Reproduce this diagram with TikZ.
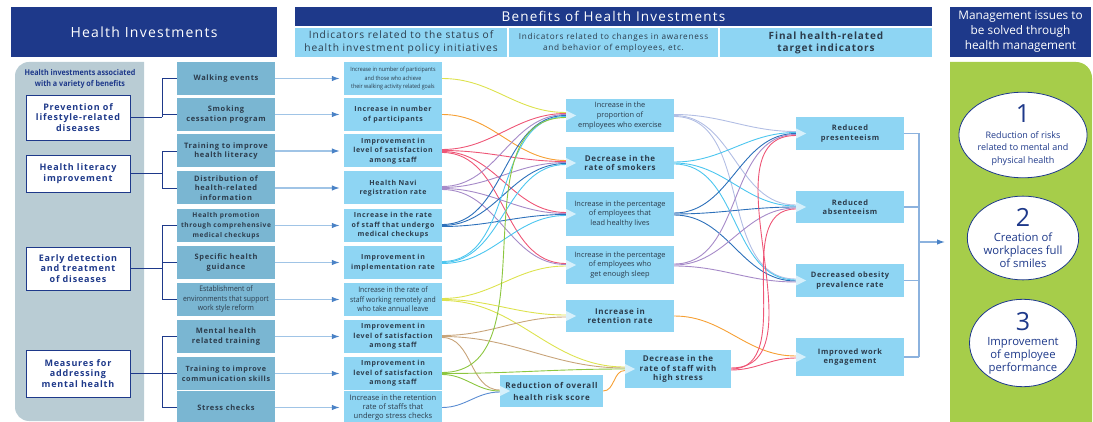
\documentclass[tikz,border=0pt]{standalone}
\usepackage{fontspec}
\setmainfont{Open Sans}[LetterSpace=9]
\newfontfamily\plainface{Open Sans}
\newfontfamily\narrowface{Open Sans}[FakeStretch=0.9]
\usetikzlibrary{shapes.geometric,backgrounds,arrows.meta}
\definecolor{hinavy}{RGB}{30,57,138}
\definecolor{hicyan}{RGB}{142,213,243}
\definecolor{histeel}{RGB}{122,182,210}
\definecolor{hipanel}{RGB}{185,204,212}
\definecolor{higreen}{RGB}{166,205,74}
\definecolor{hitext}{RGB}{44,60,76}
\definecolor{hitri}{RGB}{214,240,251}
\definecolor{feedline}{RGB}{160,196,230}
\definecolor{feedtip}{RGB}{74,130,198}
\definecolor{rline}{RGB}{140,178,222}
\definecolor{cyel}{RGB}{221,226,78}
\definecolor{corg}{RGB}{246,160,52}
\definecolor{cred}{RGB}{238,86,118}
\definecolor{cpur}{RGB}{166,138,200}
\definecolor{cdbl}{RGB}{44,112,186}
\definecolor{ccya}{RGB}{76,198,239}
\definecolor{cgrn}{RGB}{140,198,63}
\definecolor{ctan}{RGB}{200,164,122}
\definecolor{csbl}{RGB}{90,140,210}
\definecolor{clav}{RGB}{178,190,228}
\tikzset{
hdr/.style={fill=hinavy,text=white,inner sep=0pt,align=center},
subhdr/.style={fill=hicyan,text=hitext,inner sep=0pt,align=center,minimum height=29pt},
grp/.style={draw=hinavy,line width=0.9pt,fill=white,text=hinavy,minimum width=104pt,inner sep=0pt,align=center,font=\bfseries\fontsize{9}{10.7}\selectfont},
inv/.style={fill=histeel,text=hitext,minimum width=98pt,minimum height=33pt,inner sep=0pt,align=center,font=\bfseries\fontsize{7.5}{9.8}\selectfont},
kpi/.style={fill=hicyan,text=hitext,minimum width=98pt,minimum height=33pt,inner sep=0pt,align=center,font=\bfseries\fontsize{7}{9.5}\selectfont},
tri/.style={path picture={\fill[hitri] ([yshift=5pt]path picture bounding box.west) -- ([xshift=10pt]path picture bounding box.west) -- ([yshift=-5pt]path picture bounding box.west) -- cycle;}},
mid/.style={fill=hicyan,text=hitext,minimum width=108pt,inner sep=0pt,align=center,tri},
smalltxt/.style={font=\plainface\fontsize{7.4}{9.6}\selectfont},
boldtxt/.style={font=\bfseries\fontsize{8}{9.8}\selectfont},
fin/.style={mid,font=\bfseries\fontsize{7.5}{9.6}\selectfont},
goal/.style={ellipse,draw=hinavy,line width=0.8pt,fill=white,text=hinavy,minimum width=107pt,minimum height=81pt,inner sep=0pt,align=center},
brk/.style={draw=hinavy,line width=0.8pt},
feed/.style={draw=feedline,line width=1.2pt,shorten >=4pt,-{Latex[length=8pt,width=5.5pt,color=feedtip]}},
flow/.style={line width=0.9pt},
rbk/.style={draw=rline,line width=1.2pt}
}

\begin{document}
\begin{tikzpicture}[x=1pt,y=-1pt]
\useasboundingbox (0,0) rectangle (1093,422);
\fill[hipanel] (80,62) [rounded corners=14pt] -- (15,62) -- (15,421) -- (80,421) [sharp corners] -- (144,421) -- (144,62) -- cycle;
\fill[higreen] (950,422) -- (950,62) -- (1040,62) [rounded corners=16pt] -- (1092,62) -- (1092,200) [sharp corners] -- (1092,422) -- cycle;

\node[hdr,minimum width=266pt,minimum height=50pt,font=\fontsize{14}{16}\selectfont] (hinv) at (144,32) {Health Investments};
\node[hdr,minimum width=637pt,minimum height=19pt,font=\fontsize{13.5}{15}\selectfont] (bene) at (613.5,16.5) {Benefits of Health Investments};
\node[subhdr,minimum width=212pt,font=\fontsize{10.2}{12.5}\selectfont] (subA) at (401,42.5) {Indicators related to the status of\\health investment policy initiatives};
\node[subhdr,minimum width=209pt,font=\fontsize{8.2}{11}\selectfont] (subB) at (613.5,42.5) {Indicators related to changes in awareness\\and behavior of employees, etc.};
\node[subhdr,minimum width=212pt,font=\bfseries\fontsize{10}{12}\selectfont] (subC) at (826,42.5) {Final health-related\\target indicators};
\node[hdr,minimum width=141pt,minimum height=50pt,font=\plainface\fontsize{11.8}{15}\selectfont] (mgmt) at (1020.5,32) {Management issues to\\be solved through\\health management};

\node[text=hinavy,align=center,inner sep=0pt,font=\narrowface\bfseries\fontsize{8}{11}\selectfont] (cap) at (80,79) {Health investments associated\\with a variety of benefits};
\node[grp,minimum height=45pt] (g1) at (78,117.5) {Prevention of\\lifestyle-related\\diseases};
\node[grp,minimum height=37pt] (g2) at (78,173.5) {Health literacy\\improvement};
\node[grp,minimum height=43pt] (g3) at (78,268.5) {Early detection\\and treatment\\of diseases};
\node[grp,minimum height=47pt] (g4) at (78,373.5) {Measures for\\addressing\\mental health};

\node[inv] (i1) at (226,78.5) {Walking events};
\node[inv] (i2) at (226,114.5) {Smoking\\cessation program};
\node[inv] (i3) at (226,151) {Training to improve\\health literacy};
\node[inv] (i4) at (226,188) {Distribution of\\health-related\\information};
\node[inv,font=\bfseries\fontsize{6.6}{10}\selectfont] (i5) at (226,225.5) {Health promotion\\through comprehensive\\medical checkups};
\node[inv] (i6) at (226,262.5) {Specific health\\guidance};
\node[inv,font=\narrowface\fontsize{7.6}{9.5}\selectfont] (i7) at (226,299.5) {Establishment of\\environments that support\\work style reform};
\node[inv] (i8) at (226,336.5) {Mental health\\related training};
\node[inv,font=\bfseries\fontsize{7.2}{9.8}\selectfont] (i9) at (226,373.5) {Training to improve\\communication skills};
\node[inv] (i10) at (226,407.5) {Stress checks};

\node[kpi,font=\narrowface\fontsize{5.9}{8.3}\selectfont] (k1) at (393,78.5) {Increase in number of participants\\and those who achieve\\their walking activity related goals};
\node[kpi] (k2) at (393,114.5) {Increase in number\\of participants};
\node[kpi] (k3) at (393,151) {Improvement in\\level of satisfaction\\among staff};
\node[kpi] (k4) at (393,188) {Health Navi\\registration rate};
\node[kpi] (k5) at (393,225.5) {Increase in the rate\\of staff that undergo\\medical checkups};
\node[kpi] (k6) at (393,262.5) {Improvement in\\implementation rate};
\node[kpi,font=\narrowface\fontsize{7.6}{9.5}\selectfont] (k7) at (393,299.5) {Increase in the rate of\\staff working remotely and\\who take annual leave};
\node[kpi] (k8) at (393,336.5) {Improvement in\\level of satisfaction\\among staff};
\node[kpi] (k9) at (393,373.5) {Improvement in\\level of satisfaction\\among staff};
\node[kpi,font=\plainface\fontsize{7.6}{8.6}\selectfont] (k10) at (393,407.5) {Increase in the retention\\rate of staffs that\\undergo stress checks};

\node[mid,smalltxt,minimum height=33pt] (m1) at (620,115.5) {Increase in the\\proportion of\\employees who exercise};
\node[mid,boldtxt,minimum height=32pt] (m2) at (620,163) {Decrease in the\\rate of smokers};
\node[mid,smalltxt,minimum height=44pt] (m3) at (620,214) {Increase in the percentage\\of employees that\\lead healthy lives};
\node[mid,smalltxt,minimum height=38pt] (m4) at (620,265) {Increase in the percentage\\of employees who\\get enough sleep};
\node[mid,boldtxt,minimum height=32pt] (m5) at (620,316) {Increase in\\retention rate};
\node[mid,boldtxt,minimum width=106pt,minimum height=38pt] (m6) at (678,369) {Decrease in the\\rate of staff with\\high stress};
\node[mid,boldtxt,minimum width=103pt,minimum height=32pt,font=\bfseries\fontsize{8}{12}\selectfont] (m7) at (551.5,391) {Reduction of overall\\health risk score};

\node[fin,minimum height=33pt] (f1) at (850,133.5) {Reduced\\presenteeism};
\node[fin,minimum height=32pt] (f2) at (850,207) {Reduced\\absenteeism};
\node[fin,minimum height=33pt] (f3) at (850,280.5) {Decreased obesity\\prevalence rate};
\node[fin,minimum height=38pt] (f4) at (850,357) {Improved work\\engagement};

\node[goal,font=\plainface\fontsize{9}{12.5}\selectfont] (e1) at (1023,135) {{\fontsize{25}{25}\selectfont 1}\\[3pt]Reduction of risks\\related to mental and\\physical health};
\node[goal,font=\plainface\fontsize{11.3}{13}\selectfont] (e2) at (1023,238) {{\fontsize{25}{25}\selectfont 2}\\[2pt]Creation of\\workplaces full\\of smiles};
\node[goal,font=\plainface\fontsize{11.3}{13}\selectfont] (e3) at (1023,343) {{\fontsize{25}{25}\selectfont 3}\\[2pt]Improvement\\of employee\\performance};

\coordinate (lsp) at (162,0);
\foreach \g/\a/\b in {g1/i1/i2,g2/i3/i4,g3/i5/i7,g4/i8/i10}{
\draw[brk] (\g.east) -- (\g.east -| lsp);
\draw[brk] (\a.west) -- (\a.west -| lsp) -- (\b.west -| lsp) -- (\b.west);
\draw[brk] (\b.west -| lsp) -- (\g.east -| lsp);
}
\draw[brk] (i6.west) -- (i6.west -| lsp);
\draw[brk] (i9.west) -- (i9.west -| lsp);

\foreach \n in {1,...,10}
\draw[feed] (i\n.east) -- (k\n.west);

\begin{scope}[on background layer]
\foreach \s/\ds/\t/\dt/\c in {k1/0/m1/3/cyel,k2/0/m2/2.5/corg,
k3/1.5/m1/2/cred,k3/0.5/m2/1.5/cred,k3/-0.5/m3/1.5/cred,k3/-1.5/m4/1.5/cred,
k4/1.5/m1/1/cpur,k4/0.5/m2/0.5/cpur,k4/-0.5/m3/0.5/cpur,k4/-1.5/m4/0.5/cpur,
k5/1/m1/0/cdbl,k5/0/m2/-0.5/cdbl,k5/-1/m3/-0.5/cdbl,
k6/1/m1/-1/ccya,k6/0/m2/-1.5/ccya,k6/-1/m3/-1.5/ccya,
k7/1/m4/-1/cyel,k7/0/m5/1/cyel,k7/-1/m6/2/cyel,
k8/1/m5/-1/ctan,k8/0/m6/1/ctan,k8/-1/m7/1/ctan,
k9/1/m1/-2/cgrn,k9/0/m6/0/cgrn,k9/-1/m7/0/cgrn,
k10/0/m7/-1/csbl,m7/0/m6/-1.5/corg,
m1/1/f1/2/clav,m1/0/f2/2/clav,m1/-1/f3/1.5/clav,
m2/1/f1/1/ccya,m2/0/f2/1/ccya,m2/-1/f3/0.5/ccya,
m3/1/f1/0/cdbl,m3/0/f2/0/cdbl,m3/-1/f3/-0.5/cdbl,
m4/1/f1/-1/cpur,m4/0/f2/-1/cpur,m4/-1/f3/-1.5/cpur,
m5/0/f4/1/corg,
m6/1/f1/-2/cred,m6/0/f2/-2/cred,m6/-1/f4/-1/cred}
\draw[flow,\c] ([yshift=\ds pt]\s.east) to[out=0,in=180] ([yshift=\dt pt]\t.west);
\end{scope}

\coordinate (rsp) at (919,242);
\coordinate (gin) at (945,242);
\foreach \f in {f1,f2,f3,f4}
\draw[rbk] (\f.east) -- (\f.east -| rsp);
\draw[rbk] (f1.east -| rsp) -- (f4.east -| rsp);
\draw[rbk,-{Latex[length=8pt,width=5.5pt,color=feedtip]}] (rsp) -- (gin);
\end{tikzpicture}
\end{document}
